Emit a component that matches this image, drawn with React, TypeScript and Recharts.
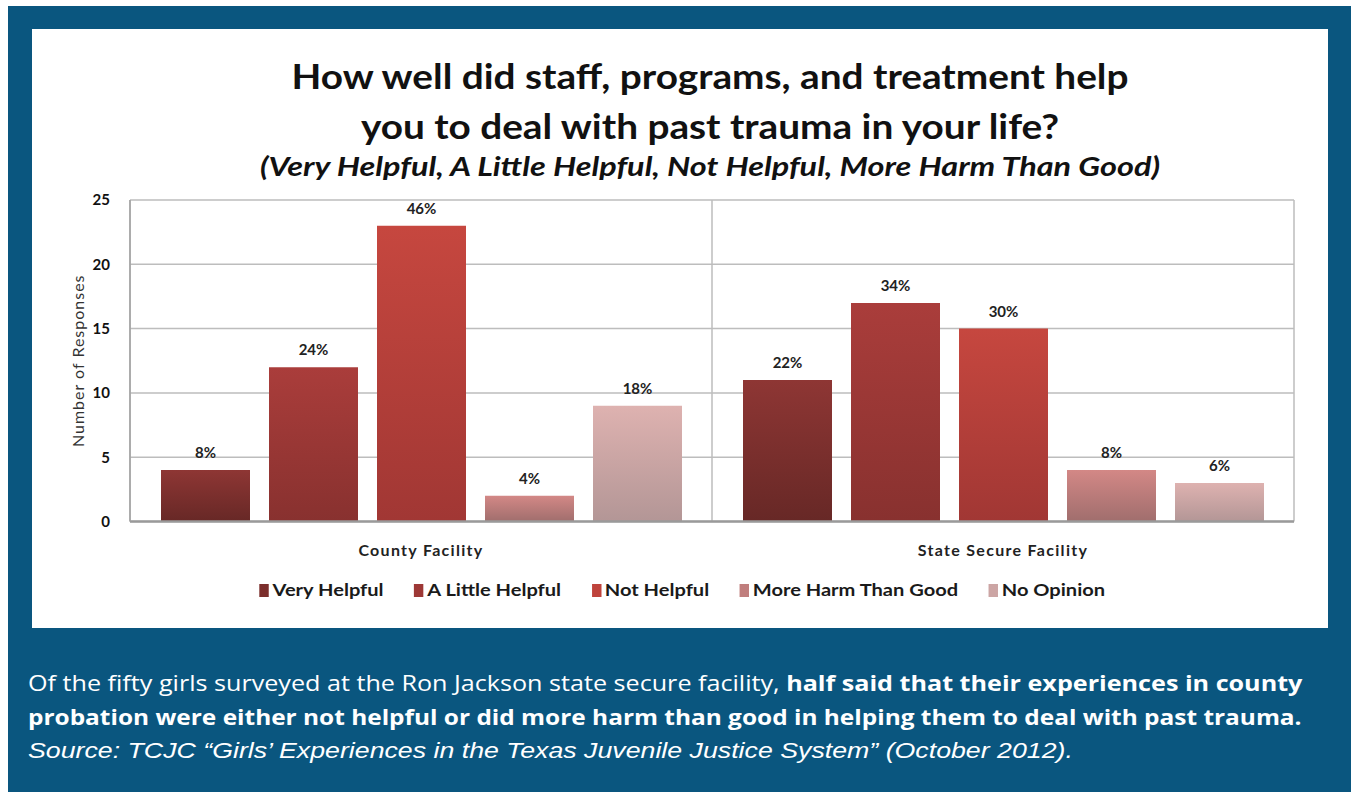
import React from 'react';
import { BarChart, Bar, XAxis, YAxis, CartesianGrid, LabelList } from 'recharts';

const categories = ['County Facility', 'State Secure Facility'];
const seriesNames = ['Very Helpful', 'A Little Helpful', 'Not Helpful', 'More Harm Than Good', 'No Opinion'];
const veryHelpful = [4, 11];
const littleHelpful = [12, 17];
const notHelpful = [23, 15];
const moreHarm = [2, 4];
const noOpinion = [9, 3];
const veryHelpfulPct = ['8%', '22%'];
const littleHelpfulPct = ['24%', '34%'];
const notHelpfulPct = ['46%', '30%'];
const moreHarmPct = ['4%', '8%'];
const noOpinionPct = ['18%', '6%'];
const yTicks = [0, 5, 10, 15, 20, 25];

const keys = ['vh', 'alh', 'nh', 'mhg', 'no'];
const valueArrays = [veryHelpful, littleHelpful, notHelpful, moreHarm, noOpinion];
const pctArrays = [veryHelpfulPct, littleHelpfulPct, notHelpfulPct, moreHarmPct, noOpinionPct];
const gradTop = ['#8E3634', '#AA3D3B', '#C6473F', '#D38886', '#DEB2B0'];
const gradBottom = ['#672826', '#88312F', '#A13734', '#A06E6D', '#B39696'];
const legendColors = ['#7B2E2C', '#9D3836', '#BF433C', '#C07E7D', '#CCA5A4'];

const data = categories.map((c, i) => {
  const row: any = { cat: c };
  keys.forEach((k, j) => {
    row[k] = valueArrays[j][i];
    row[k + 'Pct'] = pctArrays[j][i];
  });
  return row;
});

const FONT = 'Lato, "Open Sans", sans-serif';

export default function App() {
  return (
    <div style={{ position: 'absolute', left: 0, top: 0, width: 1351, height: 792, background: '#fff', overflow: 'hidden' }}>
      <div style={{ position: 'absolute', left: 8, top: 6, width: 1343, height: 786, background: '#0A567F' }} />
      <div style={{ position: 'absolute', left: 32, top: 29, width: 1296, height: 599, background: '#fff' }} />
      <div style={{ position: 'absolute', left: 0, top: 50, width: 1420, textAlign: 'center', fontFamily: FONT, color: '#111', fontSize: 35, fontWeight: 700, lineHeight: '50px', transform: 'scaleX(1.107)', transformOrigin: '710px 0' }}>
        How well did staff, programs, and treatment help<br />you to deal with past trauma in your life?
      </div>
      <div style={{ position: 'absolute', left: 0, top: 150, width: 1420, textAlign: 'center', fontFamily: FONT, color: '#111', fontSize: 27, fontWeight: 700, fontStyle: 'italic', lineHeight: 1.2, whiteSpace: 'nowrap', transform: 'scaleX(1.2)', transformOrigin: '710px 0' }}>
        (Very Helpful, A Little Helpful, Not Helpful, More Harm Than Good)
      </div>
      <div style={{ position: 'absolute', left: 0, top: 0 }}>
        <BarChart width={1351} height={640} data={data} margin={{ top: 200, right: 57, left: 90, bottom: 0 }} barGap={19} barSize={89}>
          <defs>
            {keys.map((k, i) => (
              <linearGradient key={k} id={'g_' + k} x1="0" y1="0" x2="0" y2="1">
                <stop offset="0%" stopColor={gradTop[i]} />
                <stop offset="100%" stopColor={gradBottom[i]} />
              </linearGradient>
            ))}
          </defs>
          <CartesianGrid
            stroke="#BDBDBD"
            strokeWidth={1.5}
            verticalCoordinatesGenerator={({ offset }: any) => [offset.left, offset.left + offset.width / 2, offset.left + offset.width]}
          />
          <XAxis
            dataKey="cat"
            tickLine={false}
            axisLine={{ stroke: '#9A9A9A', strokeWidth: 2.5 }}
            tick={{ fill: '#222', fontSize: 16, fontFamily: FONT, fontWeight: 700, letterSpacing: 1.3 }}
            tickMargin={17}
            height={118.5}
          />
          <YAxis
            width={40}
            domain={[0, 25]}
            ticks={yTicks}
            tickLine={false}
            axisLine={{ stroke: '#A0A0A0', strokeWidth: 1.5 }}
            tick={{ fill: '#111', fontSize: 15, fontFamily: FONT, fontWeight: 700 }}
            tickMargin={14}
            label={{ value: 'Number of Responses', angle: -90, position: 'insideLeft', dx: -17, dy: 0, style: { fill: '#333', fontSize: 16, letterSpacing: 1, fontFamily: FONT, textAnchor: 'middle' } }}
          />
          {keys.map((k, i) => (
            <Bar key={k} dataKey={k} name={seriesNames[i]} fill={`url(#g_${k})`} isAnimationActive={false}>
              <LabelList dataKey={k + 'Pct'} position="top" offset={12} style={{ fill: '#222', fontSize: 15, fontFamily: FONT, fontWeight: 700 }} />
            </Bar>
          ))}
        </BarChart>
      </div>
      <div style={{ position: 'absolute', left: 8, top: 578, width: 1351, display: 'flex', justifyContent: 'center', transform: 'scaleX(1.18)', transformOrigin: '682px 0' }}>
        <div style={{ display: 'flex', gap: 26, fontFamily: FONT, fontWeight: 700, fontSize: 17, color: '#1a1a1a', lineHeight: '24px' }}>
          {seriesNames.map((n, i) => (
            <div key={n} style={{ display: 'flex', alignItems: 'center' }}>
              <span style={{ display: 'inline-block', width: 8, height: 13, background: legendColors[i], marginRight: 3 }} />
              <span>{n}</span>
            </div>
          ))}
        </div>
      </div>
      <div style={{ position: 'absolute', left: 28, top: 666, color: '#fff', fontFamily: '"Open Sans", sans-serif', fontSize: 21, lineHeight: '34px', whiteSpace: 'nowrap' }}>
        <div style={{ transform: 'scaleX(1.197)', transformOrigin: '0 0' }}>Of the fifty girls surveyed at the Ron Jackson state secure facility, <b>half said that their experiences in county</b></div>
        <div style={{ transform: 'scaleX(1.163)', transformOrigin: '0 0' }}><b>probation were either not helpful or did more harm than good in helping them to deal with past trauma.</b></div>
        <div style={{ fontFamily: '"Liberation Sans", Arial, sans-serif', fontStyle: 'italic', fontSize: 22, transform: 'scaleX(1.215)', transformOrigin: '0 0' }}>Source: TCJC “Girls’ Experiences in the Texas Juvenile Justice System” (October 2012).</div>
      </div>
    </div>
  );
}
